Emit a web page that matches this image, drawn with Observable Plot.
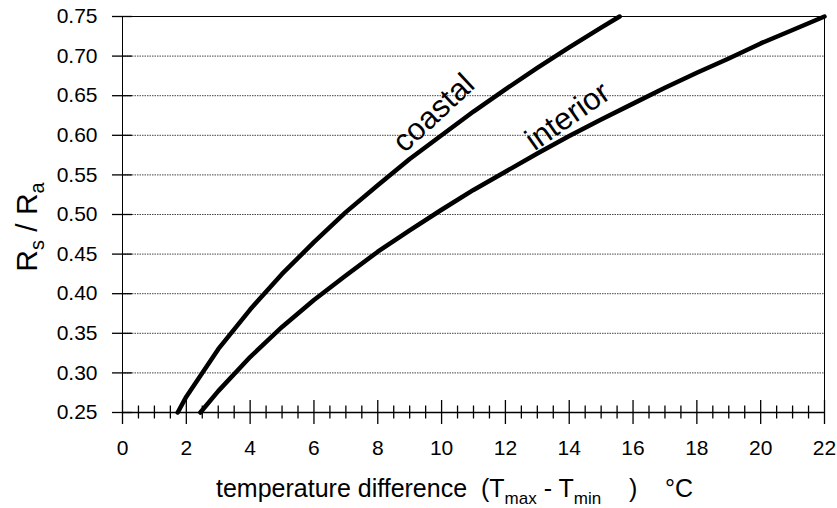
<!DOCTYPE html>
<html><head><meta charset="utf-8">
<script src="https://cdn.jsdelivr.net/npm/d3@7"></script>
<script src="https://cdn.jsdelivr.net/npm/@observablehq/plot@0.6"></script>
<style>body{margin:0;background:#fff;} svg{display:block}</style>
</head><body><div id="chart"></div>
<script>
// Coastal curve: temperature difference (°C) and Rs/Ra
const coastalT = [1.73, 2, 3, 4, 5, 6, 7, 8, 9, 10, 11, 12, 13, 14, 15, 15.58];
const coastalR = [0.25, 0.27, 0.33, 0.38, 0.425, 0.465, 0.503, 0.537, 0.57, 0.60, 0.63, 0.658, 0.685, 0.711, 0.736, 0.75];
// Interior curve
const interiorT = [2.44, 3, 4, 5, 6, 7, 8, 9, 10, 11, 12, 13, 14, 15, 16, 17, 18, 19, 20, 21, 22];
const interiorR = [0.25, 0.277, 0.32, 0.358, 0.392, 0.423, 0.453, 0.48, 0.506, 0.531, 0.554, 0.577, 0.599, 0.62, 0.64, 0.66, 0.679, 0.697, 0.716, 0.733, 0.75];
// Axis ticks
const yTicks = [0.25, 0.30, 0.35, 0.40, 0.45, 0.50, 0.55, 0.60, 0.65, 0.70, 0.75];
const yGrid = [0.30, 0.35, 0.40, 0.45, 0.50, 0.55, 0.60, 0.65, 0.70];
const xMajorTicks = [0, 2, 4, 6, 8, 10, 12, 14, 16, 18, 20, 22];
const xMinorTicks = [0.5, 1, 1.5, 2.5, 3, 3.5, 4.5, 5, 5.5, 6.5, 7, 7.5, 8.5, 9, 9.5, 10.5, 11, 11.5, 12.5, 13, 13.5, 14.5, 15, 15.5, 16.5, 17, 17.5, 18.5, 19, 19.5, 20.5, 21, 21.5];
// Curve labels
const labelNames = ["coastal", "interior"];
const labelT = [9.75, 13.95];
const labelR = [0.628, 0.624];
const labelAngle = [-43, -35];

const coastal = coastalT.map((t, i) => ({t, r: coastalR[i]}));
const interior = interiorT.map((t, i) => ({t, r: interiorR[i]}));
const curveLabels = labelNames.map((name, i) => ({name, t: labelT[i], r: labelR[i], a: labelAngle[i]}));

const FONT = "Arial, 'Liberation Sans', sans-serif";
const plot = Plot.plot({
  width: 837, height: 508,
  marginLeft: 122, marginRight: 13, marginTop: 16, marginBottom: 96,
  x: {domain: [0, 22]},
  y: {domain: [0.25, 0.75]},
  style: {fontFamily: FONT, fontSize: "21px", color: "#000", background: "#fff"},
  marks: [
    Plot.ruleY(yGrid, {stroke: "#444", strokeDasharray: "1.5,1", strokeWidth: 1}),
    Plot.frame({stroke: "#000", strokeWidth: 1}),
    Plot.ruleY([0.25], {stroke: "#000", strokeWidth: 1.6}),
    Plot.axisY({ticks: yTicks, tickSize: 20, dx: 10, tickPadding: 15, tickFormat: d3.format(".2f"), label: null, fontSize: 21, strokeWidth: 1.3}),
    Plot.axisX({ticks: xMinorTicks, tickSize: 13, dy: -6.5, tickFormat: () => "", label: null, strokeWidth: 1.3}),
    Plot.axisX({ticks: xMajorTicks, tickSize: 24, dy: -12, tickPadding: 16, label: null, fontSize: 21, strokeWidth: 1.3}),
    Plot.line(coastal, {x: "t", y: "r", stroke: "#000", strokeWidth: 4.5}),
    Plot.line(interior, {x: "t", y: "r", stroke: "#000", strokeWidth: 4.5}),
    Plot.text(curveLabels, {x: "t", y: "r", text: "name", rotate: "a", fontSize: 31, fill: "#000"})
  ]
});
document.getElementById("chart").appendChild(plot);

const svg = d3.select(plot);
// y label
const yl = svg.append("text")
  .attr("transform", "translate(37,227) rotate(-90)")
  .attr("text-anchor", "middle")
  .style("font-family", FONT).style("font-size", "30px").attr("fill", "#000");
yl.append("tspan").text("R");
yl.append("tspan").attr("dy", 7).style("font-size", "20px").text("s");
yl.append("tspan").attr("dy", -7).text(" / R");
yl.append("tspan").attr("dy", 7).style("font-size", "20px").text("a");

// x label
const xl = svg.append("text")
  .attr("x", 216).attr("y", 497)
  .attr("text-anchor", "start")
  .style("font-family", FONT).style("font-size", "25px").attr("fill", "#000")
  .attr("xml:space", "preserve").style("white-space", "pre");
xl.append("tspan").text("temperature difference  (T");
xl.append("tspan").attr("dy", 7).style("font-size", "17px").text("max");
xl.append("tspan").attr("dy", -7).text(" - T");
xl.append("tspan").attr("dy", 7).style("font-size", "17px").text("min");
xl.append("tspan").attr("dy", -7).text("    )    °C");
</script>
</body></html>
